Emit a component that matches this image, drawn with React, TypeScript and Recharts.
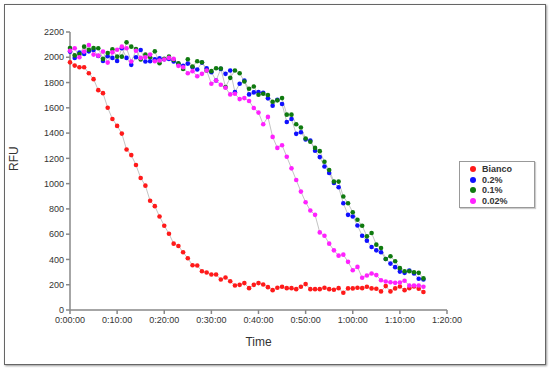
import { LineChart, Line, XAxis, YAxis } from "recharts";

// minutes since start
const minutes = [
  0, 1, 2, 3, 4, 5, 6, 7, 8, 9, 10, 11, 12, 13, 14, 15, 16, 17, 18, 19,
  20, 21, 22, 23, 24, 25, 26, 27, 28, 29, 30, 31, 32, 33, 34, 35, 36, 37, 38, 39,
  40, 41, 42, 43, 44, 45, 46, 47, 48, 49, 50, 51, 52, 53, 54, 55, 56, 57, 58, 59,
  60, 61, 62, 63, 64, 65, 66, 67, 68, 69, 70, 71, 72, 73, 74, 75,
];

const bianco = [
  1960, 1934, 1921, 1921, 1874, 1827, 1740, 1716, 1601, 1512, 1457, 1396, 1270, 1226, 1147, 1045, 984, 864, 822, 740,
  667, 604, 525, 507, 457, 409, 354, 352, 307, 297, 281, 281, 241, 257, 228, 194, 199, 213, 173, 199,
  213, 202, 181, 157, 176, 184, 173, 173, 165, 184, 205, 165, 165, 165, 176, 165, 160, 173, 136, 171,
  171, 176, 173, 184, 171, 168, 147, 189, 147, 171, 186, 157, 173, 186, 168, 142,
];

const p02 = [
  2045, 1995, 2037, 2026, 2047, 2058, 2010, 1971, 2008, 1995, 1971, 2071, 1995, 1940, 2000, 2058, 1966, 1968, 1984, 1992,
  1984, 1987, 1966, 1948, 1932, 1950, 1921, 1903, 1958, 1913, 1882, 1816, 1908, 1869, 1895, 1724, 1790, 1816, 1706, 1722,
  1724, 1719, 1675, 1617, 1664, 1630, 1488, 1512, 1394, 1407, 1349, 1341, 1260, 1210, 1136, 1084, 1005, 971, 845, 753,
  740, 669, 588, 549, 499, 472, 457, 404, 367, 339, 304, 294, 312, 289, 247, 241,
];

const p01 = [
  2073, 2015, 2026, 2084, 2060, 2073, 2071, 1987, 2034, 2063, 2005, 2005, 2118, 2084, 2066, 1982, 2021, 2000, 2047, 1953,
  1987, 2005, 1979, 1953, 1908, 1984, 1927, 1968, 1961, 1895, 1890, 1913, 1911, 1764, 1837, 1895, 1874, 1808, 1751, 1769,
  1703, 1711, 1701, 1648, 1659, 1677, 1546, 1546, 1470, 1444, 1357, 1331, 1283, 1257, 1173, 1108, 1016, 1016, 898, 845,
  774, 714, 667, 583, 609, 517, 491, 404, 425, 386, 331, 307, 307, 299, 294, 250,
];

const p002 = [
  2052, 2071, 2000, 2045, 2097, 2021, 2013, 2045, 1958, 2039, 2060, 2084, 2071, 1966, 2052, 1995, 2000, 2021, 1968, 1974,
  1982, 1995, 1987, 1932, 1921, 1874, 1890, 1850, 1869, 1895, 1790, 1816, 1782, 1759, 1706, 1711, 1669, 1677, 1654, 1598,
  1562, 1470, 1528, 1370, 1283, 1304, 1213, 1121, 1029, 937, 853, 787, 753, 614, 588, 525, 472, 430, 438, 381,
  315, 341, 255, 273, 289, 276, 236, 226, 220, 215, 218, 231, 194, 194, 194, 184,
];

const xTicks = [0, 10, 20, 30, 40, 50, 60, 70, 80];
const yTicks = [0, 200, 400, 600, 800, 1000, 1200, 1400, 1600, 1800, 2000, 2200];

const series = [
  { key: "bianco", name: "Bianco", color: "#ff1a1a" },
  { key: "p02", name: "0.2%", color: "#1010ff" },
  { key: "p01", name: "0.1%", color: "#0f7a0f" },
  { key: "p002", name: "0.02%", color: "#ff22ff" },
];

const data = minutes.map((m, i) => ({
  t: m,
  bianco: bianco[i],
  p02: p02[i],
  p01: p01[i],
  p002: p002[i],
}));

function fmtTime(v: number) {
  const h = Math.floor(v / 60);
  const m = v % 60;
  return `${h}:${String(m).padStart(2, "0")}:00`;
}

const font = "'Liberation Sans', Arial, sans-serif";
const tickStyle = { fontSize: 9, fill: "#333", fontFamily: font };

export default function App() {
  return (
    <div style={{ position: "absolute", left: 0, top: 0, width: 550, height: 369, background: "#fff" }}>
      <div
        style={{
          position: "absolute",
          left: 4,
          top: 4,
          width: 540,
          height: 359,
          border: "1px solid #666",
          boxShadow: "1px 1px 2px #999",
        }}
      />
      <div style={{ position: "absolute", left: 0, top: 0 }}>
        <LineChart width={550} height={369} data={data} margin={{ top: 32, right: 103, bottom: 14, left: 0 }}>
          <XAxis
            dataKey="t"
            type="number"
            domain={[0, 80]}
            ticks={xTicks}
            tickFormatter={fmtTime}
            height={45}
            tick={tickStyle}
            tickSize={4}
            tickMargin={3}
            stroke="#888"
            strokeWidth={1.5}
            label={{ value: "Time", position: "insideBottom", offset: 9, fontSize: 12, fill: "#333", fontFamily: font }}
          />
          <YAxis
            type="number"
            domain={[0, 2200]}
            ticks={yTicks}
            width={70}
            tick={tickStyle}
            tickSize={4}
            tickMargin={2}
            stroke="#888"
            strokeWidth={1.5}
            label={{ value: "RFU", angle: -90, position: "insideLeft", offset: 14, fontSize: 12, fill: "#333", fontFamily: font }}
          />
          {series.map((s) => (
            <Line
              key={s.key}
              dataKey={s.key}
              name={s.name}
              type="linear"
              stroke="#c4c4c4"
              strokeWidth={1}
              dot={{ r: 2.3, fill: s.color, stroke: "none" }}
              activeDot={false}
              isAnimationActive={false}
            />
          ))}
        </LineChart>
      </div>
      <div
        style={{
          position: "absolute",
          left: 459,
          top: 161,
          width: 74,
          height: 45,
          border: "1px solid #999",
          boxShadow: "1px 1px 1px #ccc",
          fontFamily: font,
          fontSize: 9,
          fontWeight: "bold",
          color: "#333",
        }}
      >
        {series.map((s, i) => (
          <div
            key={s.key}
            style={{ position: "absolute", left: 0, top: 2 + i * 10.5, height: 10, display: "flex", alignItems: "center" }}
          >
            <span
              style={{
                display: "inline-block",
                width: 6,
                height: 6,
                borderRadius: 3,
                background: s.color,
                marginLeft: 10,
                marginRight: 6,
              }}
            />
            <span>{s.name}</span>
          </div>
        ))}
      </div>
    </div>
  );
}
